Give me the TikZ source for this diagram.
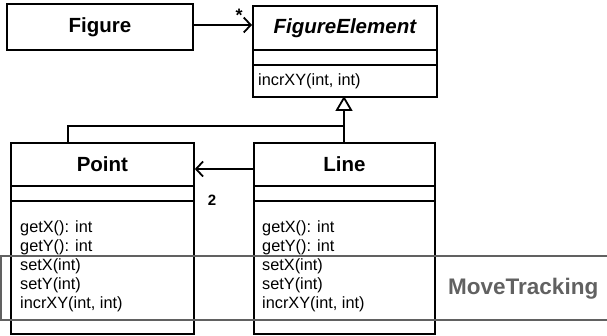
\documentclass[tikz,border=0pt]{standalone}
\usepackage{fontspec}
\setmainfont{Liberation Sans}
\usetikzlibrary{arrows.meta}
\tikzset{
  box/.style={draw, line width=1.8pt, anchor=north west, inner sep=0pt, rectangle},
  cls/.style={font=\fontsize{20.5}{22}\selectfont\bfseries},
  opstext/.style={anchor=north west, inner sep=0pt, align=left, font=\fontsize{16.3}{19.2}\selectfont},
  conn/.style={line width=1.8pt},
  band/.style={draw=black!62, line width=1.6pt},
}
\begin{document}
\begin{tikzpicture}[x=1pt,y=-1pt]
\useasboundingbox (0,0) rectangle (607,336);
% Figure
\node[box, cls, minimum width=186pt, minimum height=46pt] (fig) at (6,3) {Figure};
% FigureElement
\node[box, cls, minimum width=184pt, minimum height=44pt] (feh) at (252,5) {\itshape FigureElement};
\node[box, minimum width=184pt, minimum height=15pt] (fea) at (252,49) {};
\node[box, minimum width=184pt, minimum height=32pt] (feo) at (252,64) {};
\node[opstext, anchor=west] (feot) at (258,81) {incrXY(int, int)};
% Point
\node[box, cls, minimum width=183pt, minimum height=43pt] (pth) at (10,142) {Point};
\node[box, minimum width=183pt, minimum height=15pt] (pta) at (10,185) {};
\node[box, minimum width=183pt, minimum height=133pt] (pto) at (10,200) {};
\node[opstext] (ptot) at (20,220) {getX(): int\\getY(): int\\setX(int)\\setY(int)\\incrXY(int, int)};
% Line
\node[box, cls, minimum width=181pt, minimum height=43pt] (lnh) at (253,142) {Line};
\node[box, minimum width=181pt, minimum height=15pt] (lna) at (253,185) {};
\node[box, minimum width=181pt, minimum height=133pt] (lno) at (253,200) {};
\node[opstext] (lnot) at (262,220) {getX(): int\\getY(): int\\setX(int)\\setY(int)\\incrXY(int, int)};
% association Figure -> FigureElement
\coordinate (fe1) at (252,25);
\draw[conn, -{Straight Barb[length=7pt,width=15pt,line width=1.8pt]}] (fig.east |- fe1) -- (fe1);
\node[font=\fontsize{18}{18}\selectfont\bfseries, inner sep=0pt] (star) at (239,15) {*};
% generalization
\coordinate (gx) at (344,96);
\coordinate (jn) at (344,126);
\draw[conn, -{Triangle[open, length=15pt, width=17pt, line width=1.8pt]}] (lnh.north -| gx) -- (gx);
\draw[conn] (pth.north -| 68,0) -- (68,126) -- (jn);
% association Line -> Point
\coordinate (la) at (253,169);
\draw[conn, -{Straight Barb[length=7pt,width=15pt,line width=1.8pt]}] (la) -- (pth.east |- la);
\node[font=\fontsize{15}{15}\selectfont\bfseries, inner sep=0pt] (two) at (212,200) {2};
% MoveTracking band
\coordinate (b1) at (607,256);
\coordinate (b2) at (1,256);
\coordinate (b3) at (1,320);
\coordinate (b4) at (607,320);
\draw[band] (b1) -- (b2) -- (b3) -- (b4);
\node[font=\fontsize{22.5}{23}\selectfont\bfseries, text=black!62, anchor=west, inner sep=0pt] (mt) at (448,289) {MoveTracking};
\end{tikzpicture}
\end{document}
